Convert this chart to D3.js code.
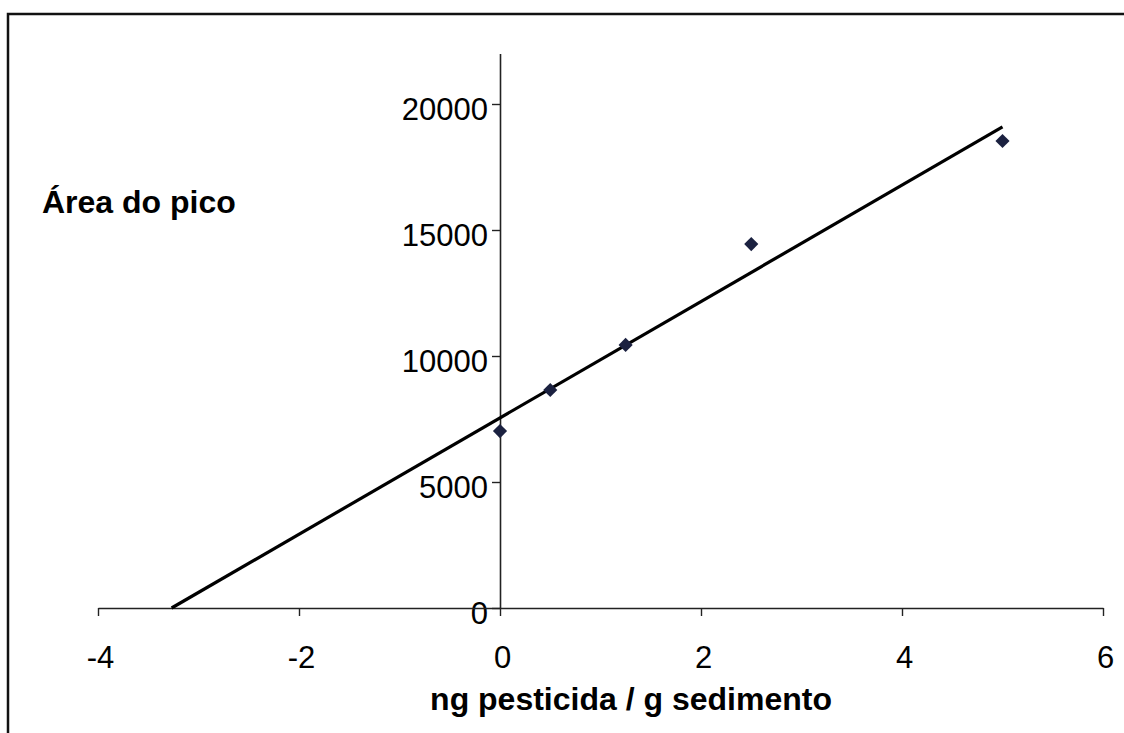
<!DOCTYPE html>
<html>
<head>
<meta charset="utf-8">
<script src="https://cdn.jsdelivr.net/npm/d3@7"></script>
<style>
  body { margin: 0; background: #fff; overflow: hidden; }
  text { font-family: "Liberation Sans", Arial, sans-serif; fill: #000; }
</style>
</head>
<body>
<div id="chart"></div>
<script>
// concentration added (ng/g) and measured peak area
var conc = [0, 0.5, 1.25, 2.5, 5]
var area = [7020, 8650, 10440, 14440, 18530]
var xTicks = [-4, -2, 0, 2, 4, 6]
var yTicks = [0, 5000, 10000, 15000, 20000]

var width = 1124, height = 733

var svg = d3.select("#chart").append("svg")
    .attr("width", width)
    .attr("height", height)
    .style("display", "block")

// frame (only top and left edges are visible in the scan)
svg.append("path")
    .attr("d", "M8,733 V14 H1124")
    .attr("fill", "none")
    .attr("stroke", "#111")
    .attr("stroke-width", 2.5)

var x = d3.scaleLinear().domain([-4, 6]).range([98, 1103])
var y = d3.scaleLinear().domain([0, 22000]).range([608, 53.6])

// plain number labels, hyphen for minus
var fmt = function(d) { return String(d) }

// y axis sits on x = 0
var yAxis = svg.append("g")
    .attr("transform", "translate(" + x(0) + ",0)")
    .call(d3.axisLeft(y).tickValues(yTicks).tickFormat(fmt).tickSize(8).tickSizeOuter(0).tickPadding(4))
yAxis.select(".domain").attr("stroke", "#222").attr("stroke-width", 1.6)
yAxis.selectAll(".tick line").attr("stroke", "#222").attr("stroke-width", 1.4)
yAxis.selectAll(".tick text")
    .style("font-size", "31px")
    .attr("font-family", null)
    .attr("dy", "0.5em")

// x axis sits on y = 0
var xAxis = svg.append("g")
    .attr("transform", "translate(0," + y(0) + ")")
    .call(d3.axisBottom(x).tickValues(xTicks).tickFormat(fmt).tickSize(8).tickSizeOuter(0))
xAxis.select(".domain").attr("stroke", "#222").attr("stroke-width", 1.6)
xAxis.selectAll(".tick line").attr("stroke", "#222").attr("stroke-width", 1.4)
xAxis.selectAll(".tick text")
    .style("font-size", "31px")
    .attr("font-family", null)
    .attr("y", 60)
    .attr("dy", 0)
    .attr("dx", 2)

// least squares trend line, drawn from the x-intercept to the last point
var mx = d3.mean(conc), my = d3.mean(area)
var sxy = d3.sum(conc, function(d, i) { return (d - mx) * (area[i] - my) })
var sxx = d3.sum(conc, function(d) { return (d - mx) * (d - mx) })
var slope = sxy / sxx
var intercept = my - slope * mx
var x0 = -intercept / slope
var trend = [x0, d3.max(conc)]

svg.append("path")
    .attr("d", d3.line()
        .x(function(d) { return x(d) })
        .y(function(d) { return y(intercept + slope * d) })(trend))
    .attr("fill", "none")
    .attr("stroke", "#000")
    .attr("stroke-width", 3.2)

// diamond markers
svg.selectAll(".pt")
    .data(conc)
    .enter().append("path")
    .attr("class", "pt")
    .attr("d", d3.symbol(d3.symbolSquare, 100))
    .attr("transform", function(d, i) {
        return "translate(" + x(d) + "," + y(area[i]) + ") rotate(45)"
    })
    .attr("fill", "#1b2140")

// titles
svg.append("text")
    .attr("x", 42)
    .attr("y", 213)
    .style("font-size", "32px")
    .style("font-weight", "bold")
    .text("Área do pico")

svg.append("text")
    .attr("x", 631)
    .attr("y", 710)
    .attr("text-anchor", "middle")
    .style("font-size", "32px")
    .style("font-weight", "bold")
    .text("ng pesticida / g sedimento")
</script>
</body>
</html>
